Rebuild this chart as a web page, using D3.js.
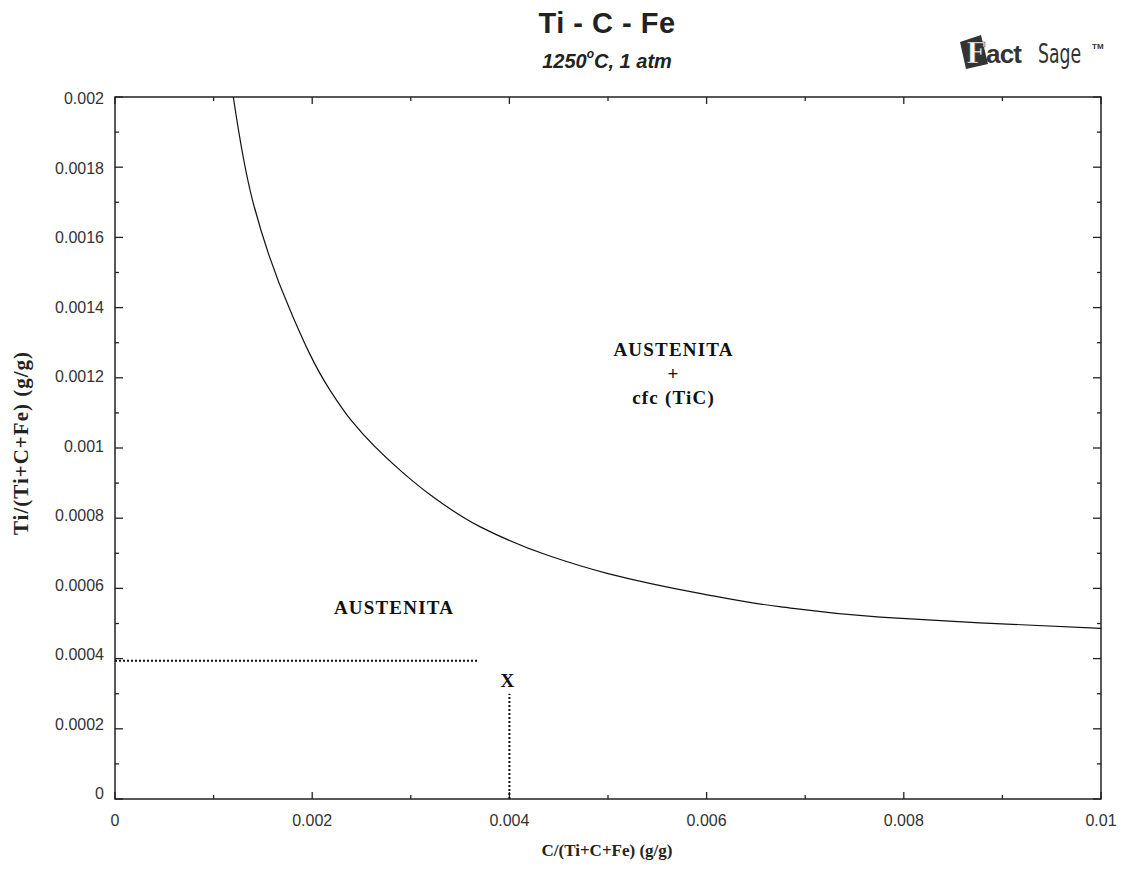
<!DOCTYPE html>
<html><head><meta charset="utf-8">
<script src="https://cdn.jsdelivr.net/npm/d3@7"></script>
<style>body{margin:0;background:#fff}svg{display:block}</style>
</head><body>
<script>
// ---- data ----
const curveC  = [0.00120, 0.00140, 0.00178, 0.00218, 0.00240, 0.00291, 0.00320, 0.00370, 0.00438, 0.00499, 0.00593, 0.00674, 0.00776, 0.00877, 0.01000];
const curveTi = [0.00200, 0.00170, 0.00139, 0.001165, 0.001077, 0.000932, 0.000866, 0.000776, 0.000695, 0.000643, 0.000586, 0.000548, 0.000518, 0.000502, 0.000486];
const xTickVals = [0, 0.002, 0.004, 0.006, 0.008, 0.01];
const xTickLabels = ["0", "0.002", "0.004", "0.006", "0.008", "0.01"];
const yTickVals = [0, 0.0002, 0.0004, 0.0006, 0.0008, 0.001, 0.0012, 0.0014, 0.0016, 0.0018, 0.002];
const yTickLabels = ["0", "0.0002", "0.0004", "0.0006", "0.0008", "0.001", "0.0012", "0.0014", "0.0016", "0.0018", "0.002"];
const xMinor = [0.001, 0.003, 0.005, 0.007, 0.009];
const yMinor = [0.0001, 0.0003, 0.0005, 0.0007, 0.0009, 0.0011, 0.0013, 0.0015, 0.0017, 0.0019];
const hLine = {x: [0, 0.00368], y: 0.000394};
const vLine = {x: 0.004, y: [0, 0.0003]};
const markX = {x: 0.00398, y: 0.00034, text: "X"};
const regionLabels = [
  {x: 0.00283, y: 0.000547, lines: ["AUSTENITA"]},
  {x: 0.005665, y: 0.001214, lines: ["AUSTENITA", "+", "cfc (TiC)"]}
];
const title = "Ti - C - Fe";
const xTitle = "C/(Ti+C+Fe) (g/g)";
const yTitle = "Ti/(Ti+C+Fe) (g/g)";

// ---- layout ----
const W = 1121, H = 872;
const L = 115, R = 1101, T = 97, B = 799;
const svg = d3.select("body").append("svg").attr("width", W).attr("height", H);
const x = d3.scaleLinear().domain([0, 0.01]).range([L, R]);
const y = d3.scaleLinear().domain([0, 0.002]).range([B, T]);
const yLab = d3.scaleLinear().domain([0, 0.002]).range([799, 104]);
const axisCol = "#222";
const serif = "'Times New Roman', 'Liberation Serif', serif";
const sans = "Arial, 'Liberation Sans', sans-serif";

svg.append("defs").append("clipPath").attr("id", "clip")
  .append("rect").attr("x", L).attr("y", T).attr("width", R - L).attr("height", B - T);

// ticks (inward, all four sides)
const g = svg.append("g");
function vt(v, len, side) {
  const px = x(v);
  if (side === "b") g.append("line").attr("x1", px).attr("x2", px).attr("y1", B).attr("y2", B - len);
  else g.append("line").attr("x1", px).attr("x2", px).attr("y1", T).attr("y2", T + len);
}
function ht(v, len, side) {
  const py = y(v);
  if (side === "l") g.append("line").attr("x1", L).attr("x2", L + len).attr("y1", py).attr("y2", py);
  else g.append("line").attr("x1", R).attr("x2", R - len).attr("y1", py).attr("y2", py);
}
xTickVals.forEach(v => { vt(v, 7, "b"); vt(v, 7, "t"); });
xMinor.forEach(v => { vt(v, 4, "b"); vt(v, 4, "t"); });
yTickVals.forEach(v => { ht(v, 8, "l"); ht(v, 8, "r"); });
yMinor.forEach(v => { ht(v, 4, "l"); ht(v, 4, "r"); });
g.selectAll("line").attr("stroke", axisCol).attr("stroke-width", 1.3);

// frame
svg.append("rect").attr("x", L).attr("y", T).attr("width", R - L).attr("height", B - T)
  .attr("fill", "none").attr("stroke", axisCol).attr("stroke-width", 1.5);

// tick labels
svg.append("g").selectAll("text").data(xTickVals).join("text")
  .attr("x", d => x(d)).attr("y", 826).attr("text-anchor", "middle")
  .attr("font-family", sans).attr("font-size", 16).attr("fill", "#333")
  .text((d, i) => xTickLabels[i]);
svg.append("g").selectAll("text").data(yTickVals).join("text")
  .attr("x", 104).attr("y", d => yLab(d)).attr("text-anchor", "end")
  .attr("font-family", sans).attr("font-size", 16).attr("fill", "#333")
  .text((d, i) => yTickLabels[i]);

// axis titles
svg.append("text").attr("x", 607).attr("y", 856).attr("text-anchor", "middle")
  .attr("font-family", serif).attr("font-weight", "bold")
  .attr("font-size", 17).attr("fill", "#222").text(xTitle);
svg.append("text").attr("transform", `translate(28,443) rotate(-90)`).attr("text-anchor", "middle")
  .attr("font-family", serif).attr("font-weight", "bold").attr("letter-spacing", 1)
  .attr("font-size", 21).attr("fill", "#222").text(yTitle);

// curve (ordered by increasing Ti so it is monotone in y)
const pts = curveC.map((c, i) => [c, curveTi[i]]).reverse();
svg.append("path").datum(pts).attr("clip-path", "url(#clip)")
  .attr("fill", "none").attr("stroke", "#111").attr("stroke-width", 1.2)
  .attr("d", d3.line().x(d => x(d[0])).y(d => y(d[1])).curve(d3.curveMonotoneY));

// dotted guide lines
svg.append("line").attr("x1", x(hLine.x[0])).attr("x2", x(hLine.x[1])).attr("y1", y(hLine.y)).attr("y2", y(hLine.y))
  .attr("stroke", "#111").attr("stroke-width", 2).attr("stroke-dasharray", "2,2");
svg.append("line").attr("x1", x(vLine.x)).attr("x2", x(vLine.x)).attr("y1", y(vLine.y[0])).attr("y2", y(vLine.y[1]))
  .attr("stroke", "#111").attr("stroke-width", 2).attr("stroke-dasharray", "2,2");
svg.append("text").attr("x", x(markX.x)).attr("y", y(markX.y) + 7).attr("text-anchor", "middle")
  .attr("font-family", serif).attr("font-weight", "bold")
  .attr("font-size", 19).attr("fill", "#111").text(markX.text);

// region labels
regionLabels.forEach(r => {
  const t = svg.append("text").attr("text-anchor", "middle")
    .attr("font-family", serif).attr("font-weight", "bold").attr("letter-spacing", 1.2)
    .attr("font-size", 19).attr("fill", "#111");
  r.lines.forEach((ln, i) => {
    t.append("tspan").attr("x", x(r.x)).attr("y", y(r.y) + 7 + (i - (r.lines.length - 1) / 2) * 24).text(ln);
  });
});

// title + subtitle
svg.append("text").attr("x", 607).attr("y", 33).attr("text-anchor", "middle")
  .attr("font-family", sans).attr("font-weight", "bold").attr("letter-spacing", 0.5)
  .attr("font-size", 29).attr("fill", "#222").text(title);
const st = svg.append("text").attr("x", 607).attr("y", 68).attr("text-anchor", "middle")
  .attr("font-family", sans).attr("font-weight", "bold").attr("font-style", "italic")
  .attr("font-size", 20).attr("fill", "#222");
st.append("tspan").text("1250");
st.append("tspan").attr("dy", -10).attr("font-size", 12).text("o");
st.append("tspan").attr("dy", 10).text("C, 1 atm");

// FactSage logo
const lg = svg.append("g");
lg.append("path").attr("d", "M960,42 L981,35 L988,64 L966,69 Z").attr("fill", "#333");
lg.append("text").attr("x", 966).attr("y", 63).attr("font-family", "'DejaVu Serif', serif").attr("font-weight", "bold")
  .attr("font-size", 27).attr("fill", "#fff").attr("stroke", "#333").attr("stroke-width", 0.6).text("F");
lg.append("text").attr("x", 986).attr("y", 63).attr("font-family", sans).attr("font-weight", "bold")
  .attr("font-size", 26).attr("fill", "#333").attr("letter-spacing", -0.8).text("act");
lg.append("text").attr("font-family", "'Liberation Sans Narrow', 'DejaVu Sans Condensed', sans-serif")
  .attr("font-size", 26).attr("fill", "#333")
  .attr("transform", "translate(1038,63) scale(0.74,1)").text("Sage");
lg.append("text").attr("x", 1092).attr("y", 49).attr("font-family", sans).attr("font-size", 8)
  .attr("font-weight", "bold").attr("fill", "#333").text("TM");
</script>
</body></html>
